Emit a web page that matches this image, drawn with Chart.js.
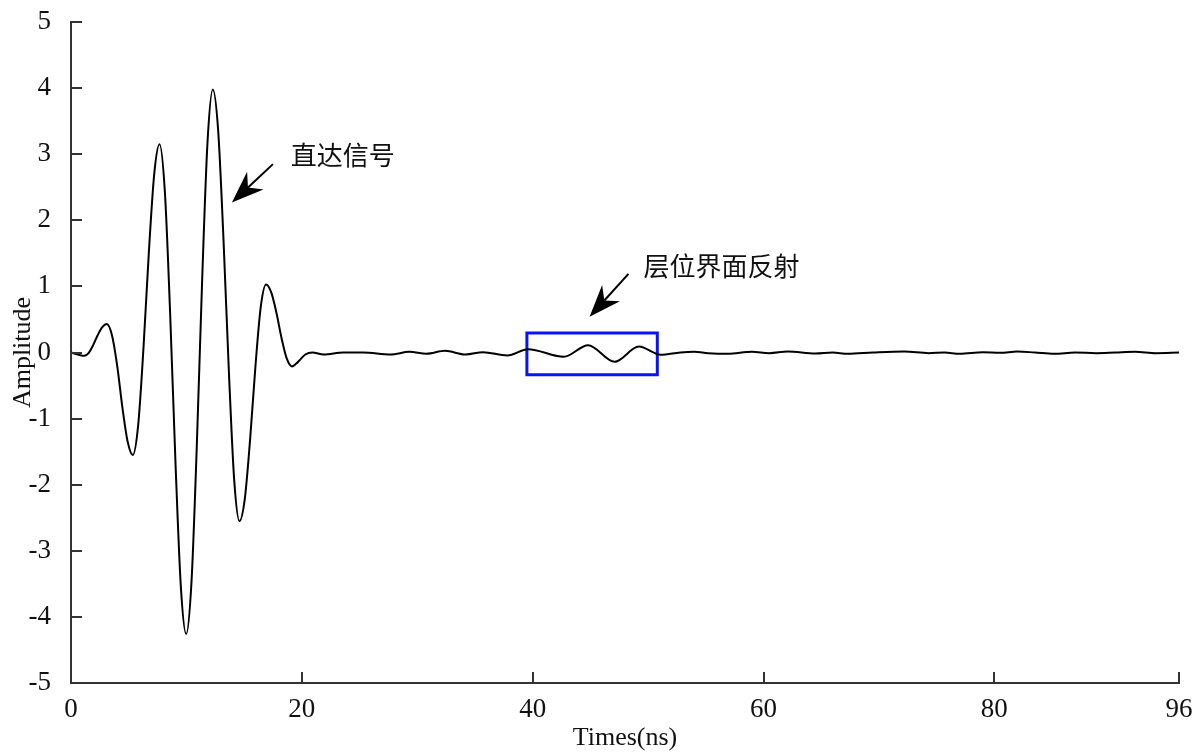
<!DOCTYPE html>
<html>
<head>
<meta charset="utf-8">
<script src="https://cdn.jsdelivr.net/npm/chart.js@4.4.1/dist/chart.umd.min.js"></script>
<style>
  html, body { margin: 0; padding: 0; background: #ffffff; }
  #c { display: block; }
</style>
</head>
<body>
<canvas id="c" width="1203" height="754"></canvas>
<script>
// ---------- data ----------
const timeNs = [
  0, 0.6, 1.15, 1.54, 1.93, 2.32, 2.71, 3.1, 3.55, 4.0, 4.46, 4.91, 5.36,
  5.82, 6.28, 6.75, 7.21, 7.67, 8.13, 8.59, 9.06, 9.52, 9.98,
  10.44, 10.9, 11.37, 11.83, 12.29, 12.75, 13.21, 13.68, 14.14, 14.6,
  15.06, 15.52, 15.98, 16.44, 16.9, 17.35, 17.8, 18.24, 18.69, 19.14,
  19.5, 19.9, 20.3, 20.9,
  21.9, 23.6, 25.3, 27.7, 29.3, 30.8, 32.4, 34.2, 35.7, 37.8, 39.6, 42.7, 44.8,
  47.1, 49.2, 51.1, 52.8, 54.0, 55.2, 56.9, 59.0, 60.5, 62.1, 64.5, 66.0, 67.3,
  69.5, 72.2, 74.3, 75.7, 77.0, 79.0, 80.5, 82.0, 83.5, 85.2, 87.0, 88.8, 90.5,
  92.2, 94.0, 96.0
];
const amplitude = [
  0, -0.03, -0.05, -0.004, 0.116, 0.264, 0.384, 0.43, 0.26, -0.2, -0.84, -1.35, -1.55,
  -1.1, 0.07, 1.53, 2.7, 3.15, 2.44, 0.59, -1.7, -3.55, -4.26,
  -3.47, -1.41, 1.13, 3.19, 3.98, 3.36, 1.72, -0.29, -1.93, -2.55,
  -2.21, -1.31, -0.21, 0.69, 1.03, 0.91, 0.6, 0.22, -0.09, -0.21,
  -0.17, -0.1, -0.03, 0.0,
  -0.03, 0.0, 0.0, -0.03, 0.01, -0.02, 0.025, -0.03, 0.005, -0.045, 0.05, -0.065, 0.11,
  -0.14, 0.09, -0.035, 0.0, 0.01, -0.01, -0.02, 0.01, -0.01, 0.015, -0.015, 0.0, -0.02,
  0.0, 0.015, -0.01, 0.0, -0.02, 0.005, -0.005, 0.015, 0.0, -0.02, 0.0, -0.01, 0.0,
  0.01, -0.01, 0.0
];
const xTickValues = [0, 20, 40, 60, 80, 96];
const yTickValues = [-5, -4, -3, -2, -1, 0, 1, 2, 3, 4, 5];

// highlight box (data coordinates)
const boxTime = [39.5, 50.8];
const boxAmp = [-0.336, 0.294];

// annotations (data coordinates)
const annoTexts = ['直达信号', '层位界面反射'];
const annoTextPos = [[19.05, 2.98], [49.6, 1.31]];
const arrowStart = [[17.5, 2.85], [48.3, 1.19]];
const arrowTip = [[13.94, 2.27], [44.93, 0.54]];

// ---------- chart ----------
const serif = "'Liberation Serif', 'Times New Roman', serif";
const axisColor = '#333333';

const boxData = [
  {x: boxTime[0], y: boxAmp[0]}, {x: boxTime[0], y: boxAmp[1]},
  {x: boxTime[1], y: boxAmp[1]}, {x: boxTime[1], y: boxAmp[0]},
  {x: boxTime[0], y: boxAmp[0]}
];

const decorPlugin = {
  id: 'decor',
  afterDatasetsDraw(chart) {
    const ctx = chart.ctx;
    const xs = chart.scales.x, ys = chart.scales.y;
    const area = chart.chartArea;
    ctx.save();
    // inward ticks
    ctx.strokeStyle = axisColor;
    ctx.lineWidth = 2;
    const tl = 11;
    xs.ticks.forEach(t => {
      const px = Math.round(xs.getPixelForValue(t.value));
      ctx.beginPath();
      ctx.moveTo(px, area.bottom);
      ctx.lineTo(px, area.bottom - tl);
      ctx.stroke();
    });
    ys.ticks.forEach(t => {
      const py = Math.round(ys.getPixelForValue(t.value));
      ctx.beginPath();
      ctx.moveTo(area.left, py);
      ctx.lineTo(area.left + tl, py);
      ctx.stroke();
    });
    // arrows
    ctx.fillStyle = '#000';
    ctx.strokeStyle = '#000';
    for (let i = 0; i < arrowStart.length; i++) {
      const sx = xs.getPixelForValue(arrowStart[i][0]), sy = ys.getPixelForValue(arrowStart[i][1]);
      const tx = xs.getPixelForValue(arrowTip[i][0]), ty = ys.getPixelForValue(arrowTip[i][1]);
      const dx = sx - tx, dy = sy - ty;
      const len = Math.hypot(dx, dy);
      const ux = dx / len, uy = dy / len;
      const px = -uy, py = ux;
      const headLen = 32, halfW = 12, notch = 22;
      ctx.lineWidth = 2;
      ctx.beginPath();
      ctx.moveTo(sx, sy);
      ctx.lineTo(tx + ux * notch, ty + uy * notch);
      ctx.stroke();
      ctx.beginPath();
      ctx.moveTo(tx, ty);
      ctx.lineTo(tx + ux * headLen + px * halfW, ty + uy * headLen + py * halfW);
      ctx.lineTo(tx + ux * notch, ty + uy * notch);
      ctx.lineTo(tx + ux * headLen - px * halfW, ty + uy * headLen - py * halfW);
      ctx.closePath();
      ctx.fill();
    }
    // texts
    ctx.font = "26px 'Noto Sans CJK SC', sans-serif";
    ctx.fillStyle = '#111';
    ctx.textAlign = 'left';
    ctx.textBaseline = 'middle';
    for (let i = 0; i < annoTexts.length; i++) {
      ctx.fillText(annoTexts[i], xs.getPixelForValue(annoTextPos[i][0]), ys.getPixelForValue(annoTextPos[i][1]));
    }
    ctx.restore();
  }
};

new Chart(document.getElementById('c'), {
  type: 'line',
  data: {
    datasets: [
      {
        data: timeNs.map((t, i) => ({x: t, y: amplitude[i]})),
        borderColor: '#000000',
        borderWidth: 2,
        pointRadius: 0,
        fill: false,
        cubicInterpolationMode: 'monotone'
      },
      {
        data: boxData,
        borderColor: '#0a14f0',
        borderWidth: 3,
        borderCapStyle: 'square',
        borderJoinStyle: 'miter',
        pointRadius: 0,
        fill: false,
        tension: 0
      }
    ]
  },
  options: {
    responsive: false,
    animation: false,
    devicePixelRatio: 1,
    layout: { padding: { top: 22, right: 24, left: 0, bottom: 0 } },
    plugins: { legend: { display: false }, tooltip: { enabled: false } },
    scales: {
      x: {
        type: 'linear',
        min: 0, max: 96,
        afterBuildTicks: s => { s.ticks = xTickValues.map(v => ({value: v})); },
        afterFit: s => { s.height = 71; s.paddingLeft = 0; s.paddingRight = 0; },
        grid: { display: false },
        border: { display: true, color: axisColor, width: 2 },
        ticks: { color: '#111', font: { family: serif, size: 27 }, padding: 3, maxRotation: 0, autoSkip: false },
        title: { display: true, text: 'Times(ns)', color: '#111', font: { family: serif, size: 26 }, padding: { top: 0, bottom: 0 } }
      },
      y: {
        type: 'linear',
        min: -5, max: 5,
        afterBuildTicks: s => { s.ticks = yTickValues.map(v => ({value: v})); },
        afterFit: s => { s.width = 71; s.paddingTop = 0; s.paddingBottom = 0; },
        grid: { display: false },
        border: { display: true, color: axisColor, width: 2 },
        ticks: { color: '#111', font: { family: serif, size: 27 }, padding: 12 },
        title: { display: true, text: 'Amplitude', color: '#111', font: { family: serif, size: 26 }, padding: { top: 8, bottom: 0 } }
      }
    }
  },
  plugins: [decorPlugin]
});
</script>
</body>
</html>
